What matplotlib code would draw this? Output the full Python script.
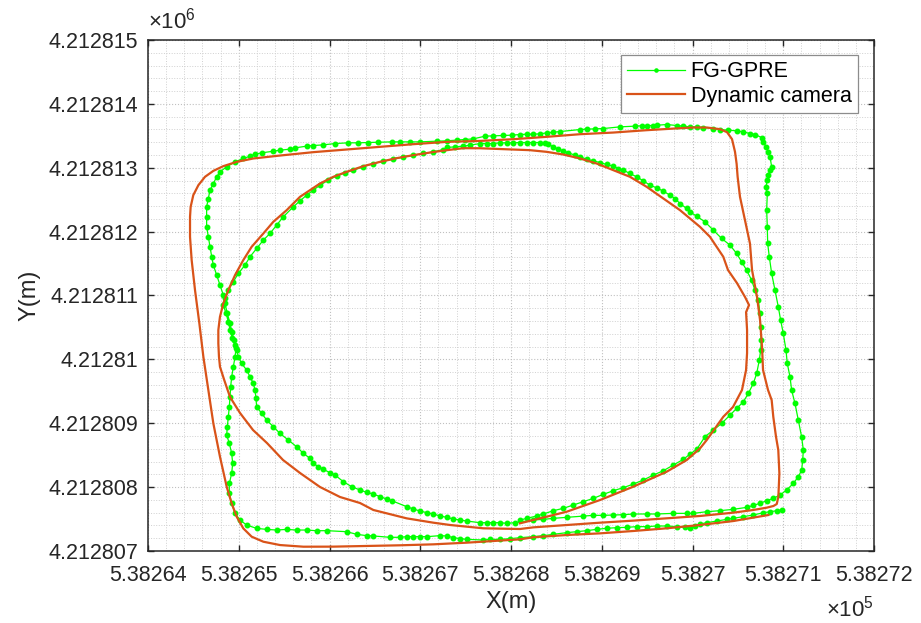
import numpy as np
import matplotlib.pyplot as plt
from matplotlib.ticker import MultipleLocator, FuncFormatter

plt.rcParams['font.family'] = ['Liberation Sans', 'DejaVu Sans']
plt.rcParams['mathtext.fontset'] = 'custom'
plt.rcParams['mathtext.rm'] = 'Liberation Sans'

# origen local (m): las trayectorias se guardan como (dE, dN) respecto a este punto
E0 = 538264.0
N0 = 4212807.0

# Dynamic camera: lazo interior (elipse) y lazo exterior
cam_inner = [
    (4.099, 0.433), (4.320, 0.511), (4.614, 0.615), (4.981, 0.798), (5.348, 1.007),
    (5.715, 1.241), (5.936, 1.424), (6.083, 1.607), (6.156, 1.736), (6.339, 2.101),
    (6.446, 2.254), (6.545, 2.520), (6.590, 2.833), (6.601, 3.099), (6.601, 3.459),
    (6.590, 3.740), (6.623, 3.850), (6.579, 3.975), (6.490, 4.194), (6.391, 4.398),
    (6.339, 4.606), (6.192, 4.919), (6.082, 5.075), (5.972, 5.205), (5.862, 5.336),
    (5.678, 5.518), (5.495, 5.701), (5.311, 5.858), (5.127, 5.962), (4.944, 6.066),
    (4.760, 6.145), (4.576, 6.207), (4.393, 6.249), (4.209, 6.275), (4.025, 6.285),
    (3.842, 6.296), (3.658, 6.305), (3.475, 6.306), (3.291, 6.275), (3.107, 6.238),
    (2.924, 6.197), (2.740, 6.150), (2.556, 6.092), (2.373, 6.025), (2.189, 5.936),
    (2.042, 5.858), (1.895, 5.753), (1.785, 5.649), (1.675, 5.545), (1.601, 5.440),
    (1.528, 5.336), (1.381, 5.154), (1.271, 4.971), (1.142, 4.762), (1.050, 4.554),
    (0.959, 4.319), (0.885, 4.084), (0.830, 3.876), (0.793, 3.667), (0.775, 3.458),
    (0.775, 3.249), (0.782, 3.041), (0.793, 2.884), (0.840, 2.676), (0.904, 2.410),
    (1.014, 2.160), (1.157, 1.894), (1.311, 1.690), (1.488, 1.424), (1.675, 1.221),
    (1.895, 1.002), (2.116, 0.845), (2.336, 0.751), (2.483, 0.642), (2.850, 0.511),
    (3.144, 0.443), (3.328, 0.407), (3.695, 0.355), (4.099, 0.344), (4.246, 0.370),
    (4.614, 0.407), (4.981, 0.443), (5.348, 0.475), (5.715, 0.511), (6.083, 0.548),
    (6.450, 0.600), (6.670, 0.642), (6.817, 0.678), (6.891, 0.704), (6.928, 0.735),
]
cam_outer = [
    (6.946, 0.850), (6.957, 1.215), (6.945, 1.580), (6.920, 1.788), (6.890, 2.101),
    (6.872, 2.363), (6.832, 2.520), (6.777, 2.833), (6.766, 3.192), (6.744, 3.615),
    (6.711, 3.975), (6.656, 4.398), (6.633, 4.814), (6.578, 5.179), (6.523, 5.545),
    (6.497, 5.858), (6.486, 6.060), (6.468, 6.250), (6.435, 6.448), (6.380, 6.557),
    (6.303, 6.604), (6.156, 6.630), (6.009, 6.630), (5.862, 6.619), (5.495, 6.588),
    (5.127, 6.551), (4.760, 6.525), (4.393, 6.484), (4.025, 6.447), (3.658, 6.420),
    (3.291, 6.405), (2.924, 6.369), (2.556, 6.327), (2.189, 6.285), (1.822, 6.244),
    (1.454, 6.191), (1.161, 6.145), (0.977, 6.092), (0.830, 6.025), (0.720, 5.951),
    (0.628, 5.858), (0.555, 5.727), (0.499, 5.571), (0.470, 5.388), (0.463, 5.232),
    (0.463, 4.919), (0.481, 4.554), (0.518, 4.084), (0.566, 3.562), (0.610, 3.041),
    (0.665, 2.519), (0.720, 1.997), (0.793, 1.476), (0.867, 1.006), (0.922, 0.745),
    (0.977, 0.537), (1.050, 0.354), (1.142, 0.224), (1.271, 0.145), (1.454, 0.093),
    (1.712, 0.067), (2.042, 0.068), (2.410, 0.078), (2.777, 0.089), (3.144, 0.104),
    (3.511, 0.130), (3.879, 0.162), (4.099, 0.182), (4.246, 0.215), (4.614, 0.250),
    (4.981, 0.276), (5.348, 0.313), (5.715, 0.355), (6.083, 0.407), (6.450, 0.469),
    (6.836, 0.563),
]

# FG-GPRE: cada punto es una estimación
fg_inner = [
    (4.099, 0.485), (4.173, 0.511), (4.283, 0.548), (4.356, 0.579), (4.467, 0.631),
    (4.577, 0.668), (4.687, 0.720), (4.797, 0.772), (4.907, 0.824), (5.018, 0.887),
    (5.128, 0.944), (5.238, 0.991), (5.348, 1.048), (5.458, 1.111), (5.569, 1.189),
    (5.679, 1.257), (5.789, 1.346), (5.899, 1.435), (5.973, 1.518), (6.046, 1.591),
    (6.137, 1.789), (6.229, 1.893), (6.321, 1.997), (6.413, 2.127), (6.486, 2.232),
    (6.560, 2.336), (6.615, 2.467), (6.670, 2.623), (6.707, 2.780), (6.736, 2.988),
    (6.751, 3.145), (6.758, 3.301), (6.751, 3.510), (6.743, 3.719), (6.725, 3.927),
    (6.688, 4.084), (6.651, 4.240), (6.596, 4.397), (6.541, 4.527), (6.486, 4.658),
    (6.413, 4.788), (6.321, 4.893), (6.229, 5.023), (6.137, 5.153), (6.045, 5.242),
    (5.972, 5.310), (5.935, 5.362), (5.862, 5.440), (5.807, 5.518), (5.752, 5.571),
    (5.678, 5.633), (5.605, 5.685), (5.531, 5.727), (5.458, 5.795), (5.384, 5.858),
    (5.311, 5.910), (5.237, 5.962), (5.182, 5.988), (5.127, 6.025), (5.054, 6.051),
    (4.980, 6.082), (4.907, 6.108), (4.833, 6.134), (4.760, 6.171), (4.705, 6.197),
    (4.631, 6.233), (4.576, 6.265), (4.521, 6.291), (4.466, 6.327), (4.411, 6.369),
    (4.374, 6.390), (4.319, 6.395), (4.246, 6.395), (4.172, 6.395), (4.099, 6.395),
    (4.025, 6.390), (3.952, 6.390), (3.878, 6.390), (3.805, 6.379), (3.731, 6.379),
    (3.658, 6.379), (3.548, 6.353), (3.475, 6.338), (3.383, 6.327), (3.291, 6.317),
    (3.254, 6.285), (3.144, 6.249), (3.034, 6.223), (2.924, 6.197), (2.813, 6.171),
    (2.703, 6.134), (2.593, 6.103), (2.483, 6.066), (2.373, 6.014), (2.263, 5.962),
    (2.171, 5.920), (2.079, 5.873), (1.987, 5.805), (1.895, 5.727), (1.822, 5.649),
    (1.748, 5.571), (1.675, 5.482), (1.601, 5.388), (1.491, 5.232), (1.418, 5.102),
    (1.344, 4.971), (1.271, 4.867), (1.197, 4.736), (1.124, 4.606), (1.069, 4.476),
    (0.995, 4.345), (0.940, 4.215), (0.885, 4.084), (0.848, 3.954), (0.830, 3.849),
    (0.860, 3.719), (0.885, 3.589), (0.904, 3.458), (0.929, 3.328), (0.959, 3.223),
    (0.977, 3.145), (0.995, 3.041), (1.032, 2.936), (1.087, 2.832), (1.124, 2.728),
    (1.161, 2.623), (1.179, 2.519), (1.190, 2.389), (1.197, 2.258), (1.252, 2.154),
    (1.308, 2.050), (1.381, 1.945), (1.454, 1.841), (1.546, 1.737), (1.638, 1.632),
    (1.712, 1.528), (1.785, 1.450), (1.822, 1.372), (1.877, 1.320), (1.932, 1.278),
    (2.005, 1.226), (2.061, 1.189), (2.152, 1.085), (2.244, 1.007), (2.336, 0.955),
    (2.410, 0.918), (2.483, 0.892), (2.556, 0.850), (2.630, 0.814), (2.685, 0.788),
    (2.850, 0.694), (2.924, 0.657), (2.997, 0.626), (3.071, 0.600), (3.144, 0.579),
    (3.218, 0.548), (3.291, 0.527), (3.365, 0.501), (3.438, 0.485), (3.511, 0.469),
    (3.658, 0.443), (3.732, 0.443), (3.805, 0.443), (3.879, 0.443), (3.952, 0.433),
    (4.044, 0.443),
]
fg_outer = [
    (4.246, 0.485), (4.356, 0.495), (4.467, 0.511), (4.614, 0.527), (4.797, 0.548),
    (4.907, 0.558), (5.018, 0.558), (5.128, 0.563), (5.238, 0.568), (5.348, 0.579),
    (5.495, 0.579), (5.605, 0.579), (5.789, 0.589), (5.936, 0.589), (6.009, 0.589),
    (6.156, 0.615), (6.303, 0.631), (6.450, 0.652), (6.597, 0.683), (6.670, 0.715),
    (6.744, 0.746), (6.817, 0.788), (6.891, 0.824), (6.964, 0.876), (7.038, 0.955),
    (7.111, 1.059), (7.166, 1.163), (7.203, 1.268), (7.214, 1.424), (7.221, 1.581),
    (7.202, 1.788), (7.166, 2.049), (7.129, 2.310), (7.092, 2.519), (7.074, 2.727),
    (7.044, 2.936), (7.030, 3.145), (7.000, 3.406), (6.971, 3.614), (6.945, 3.823),
    (6.909, 4.084), (6.872, 4.345), (6.846, 4.606), (6.828, 4.814), (6.824, 5.075),
    (6.817, 5.336), (6.824, 5.597), (6.810, 5.701), (6.824, 5.805), (6.835, 5.884),
    (6.854, 5.962), (6.872, 6.014), (6.854, 6.171), (6.835, 6.249), (6.810, 6.327),
    (6.780, 6.405), (6.762, 6.473), (6.688, 6.520), (6.633, 6.536), (6.560, 6.562),
    (6.486, 6.578), (6.394, 6.588), (6.303, 6.598), (6.229, 6.614), (6.119, 6.630),
    (6.045, 6.640), (5.972, 6.640), (5.899, 6.651), (5.825, 6.661), (5.715, 6.677),
    (5.605, 6.666), (5.568, 6.661), (5.495, 6.661), (5.439, 6.656), (5.366, 6.651),
    (5.201, 6.640), (5.017, 6.614), (4.925, 6.609), (4.833, 6.604), (4.760, 6.598),
    (4.540, 6.567), (4.466, 6.557), (4.393, 6.546), (4.319, 6.531), (4.246, 6.525),
    (4.172, 6.525), (4.099, 6.520), (4.007, 6.510), (3.915, 6.505), (3.805, 6.499),
    (3.713, 6.494), (3.585, 6.452), (3.493, 6.442), (3.401, 6.431), (3.291, 6.421),
    (3.181, 6.416), (2.997, 6.405), (2.887, 6.405), (2.777, 6.405), (2.685, 6.405),
    (2.538, 6.400), (2.428, 6.395), (2.318, 6.390), (2.207, 6.390), (2.061, 6.379),
    (1.932, 6.358), (1.822, 6.348), (1.748, 6.338), (1.620, 6.311), (1.565, 6.291),
    (1.454, 6.275), (1.381, 6.259), (1.252, 6.233), (1.179, 6.212), (1.124, 6.181),
    (1.050, 6.145), (0.959, 6.092), (0.867, 6.014), (0.793, 5.936), (0.757, 5.858),
    (0.720, 5.753), (0.683, 5.649), (0.665, 5.518), (0.646, 5.388), (0.646, 5.232),
    (0.646, 5.076), (0.665, 4.919), (0.683, 4.762), (0.702, 4.606), (0.720, 4.476),
    (0.757, 4.319), (0.793, 4.163), (0.830, 4.006), (0.848, 3.876), (0.874, 3.719),
    (0.904, 3.562), (0.922, 3.432), (0.948, 3.302), (0.970, 3.171), (0.959, 3.041),
    (0.940, 2.884), (0.922, 2.728), (0.911, 2.571), (0.904, 2.415), (0.896, 2.258),
    (0.885, 2.102), (0.874, 1.945), (0.867, 1.815), (0.896, 1.684), (0.922, 1.528),
    (0.933, 1.371), (0.922, 1.215), (0.896, 1.058), (0.896, 0.902), (0.922, 0.745),
    (0.959, 0.589), (1.014, 0.484), (1.087, 0.406), (1.197, 0.354), (1.308, 0.338),
    (1.418, 0.328), (1.528, 0.338), (1.638, 0.328), (1.748, 0.328), (1.858, 0.317),
    (1.969, 0.318), (2.189, 0.302), (2.299, 0.261), (2.410, 0.240), (2.483, 0.235),
    (2.667, 0.214), (2.777, 0.214), (2.850, 0.224), (2.924, 0.224), (2.997, 0.224),
    (3.071, 0.224), (3.218, 0.240), (3.291, 0.235), (3.365, 0.209), (3.438, 0.193),
    (3.511, 0.182), (3.695, 0.172), (3.769, 0.182), (3.879, 0.182), (3.989, 0.193),
    (4.099, 0.208), (4.246, 0.224), (4.356, 0.240), (4.467, 0.261), (4.614, 0.287),
    (4.724, 0.302), (4.834, 0.318), (4.944, 0.339), (5.054, 0.355), (5.165, 0.365),
    (5.275, 0.370), (5.385, 0.381), (5.495, 0.381), (5.605, 0.391), (5.715, 0.391),
    (5.826, 0.381), (5.917, 0.370), (5.973, 0.355), (6.028, 0.391), (6.083, 0.422),
    (6.156, 0.443), (6.266, 0.469), (6.377, 0.495), (6.450, 0.511), (6.560, 0.537),
    (6.670, 0.563), (6.781, 0.600), (6.854, 0.615), (6.928, 0.631), (6.983, 0.641),
]

cam = np.array(cam_inner + cam_outer)
fg = np.array(fg_inner + fg_outer)

TXT = '#262626'

fig = plt.figure(figsize=(9.21, 6.23), dpi=100)
ax = fig.add_axes([0.1607, 0.1156, 0.7883, 0.8202])

ax.plot(E0 + fg[:, 0], N0 + fg[:, 1], color='#00FF00', linewidth=0.9, marker='.',
        markersize=6.5, label='FG-GPRE', zorder=3)
ax.plot(E0 + cam[:, 0], N0 + cam[:, 1], color='#D95319', linewidth=1.6,
        label='Dynamic camera', zorder=4)

ax.set_xlim(538264, 538272)
ax.set_ylim(4212807, 4212815)
ax.xaxis.set_major_locator(MultipleLocator(1))
ax.xaxis.set_minor_locator(MultipleLocator(0.2))
ax.yaxis.set_major_locator(MultipleLocator(1))
ax.yaxis.set_minor_locator(MultipleLocator(0.2))
ax.xaxis.set_major_formatter(FuncFormatter(lambda v, p: f"{v/1e5:.6f}".rstrip('0').rstrip('.')))
ax.yaxis.set_major_formatter(FuncFormatter(lambda v, p: f"{v/1e6:.7f}".rstrip('0').rstrip('.')))

ax.grid(True, which='major', linestyle=':', color='#c0c0c0', linewidth=0.8)
ax.grid(True, which='minor', linestyle=':', color='#d0d0d0', linewidth=0.7)
ax.set_axisbelow(True)

ax.tick_params(which='major', direction='in', length=4, width=1, top=True, right=True,
               labelsize=15.5, colors=TXT)
ax.tick_params(axis='x', which='major', pad=10)
ax.tick_params(axis='y', which='major', pad=7)
ax.tick_params(which='minor', length=0)
for s in ax.spines.values():
    s.set_color(TXT)
    s.set_linewidth(1.1)

ax.set_xlabel('X(m)', fontsize=17, color=TXT, labelpad=4)
ax.set_ylabel('Y(m)', fontsize=17, color=TXT, labelpad=6)

ax.text(0.0, 1.012, r'$\times10^{6}$', transform=ax.transAxes, fontsize=16,
        color=TXT, ha='left', va='bottom')
ax.text(1.0, -0.088, r'$\times10^{5}$', transform=ax.transAxes, fontsize=16,
        color=TXT, ha='right', va='top')

leg = ax.legend(loc='upper right', bbox_to_anchor=(0.978, 0.9706), borderaxespad=0,
                fontsize=15.5, fancybox=False, framealpha=1, edgecolor='#8c8c8c',
                handlelength=2.7, handletextpad=0.25, labelspacing=0.15, borderpad=0.3,
                markerscale=0.7)
leg.get_frame().set_linewidth(0.9)
for t in leg.get_texts():
    t.set_color('black')

fig.savefig('out.png', dpi=100, facecolor='white')
